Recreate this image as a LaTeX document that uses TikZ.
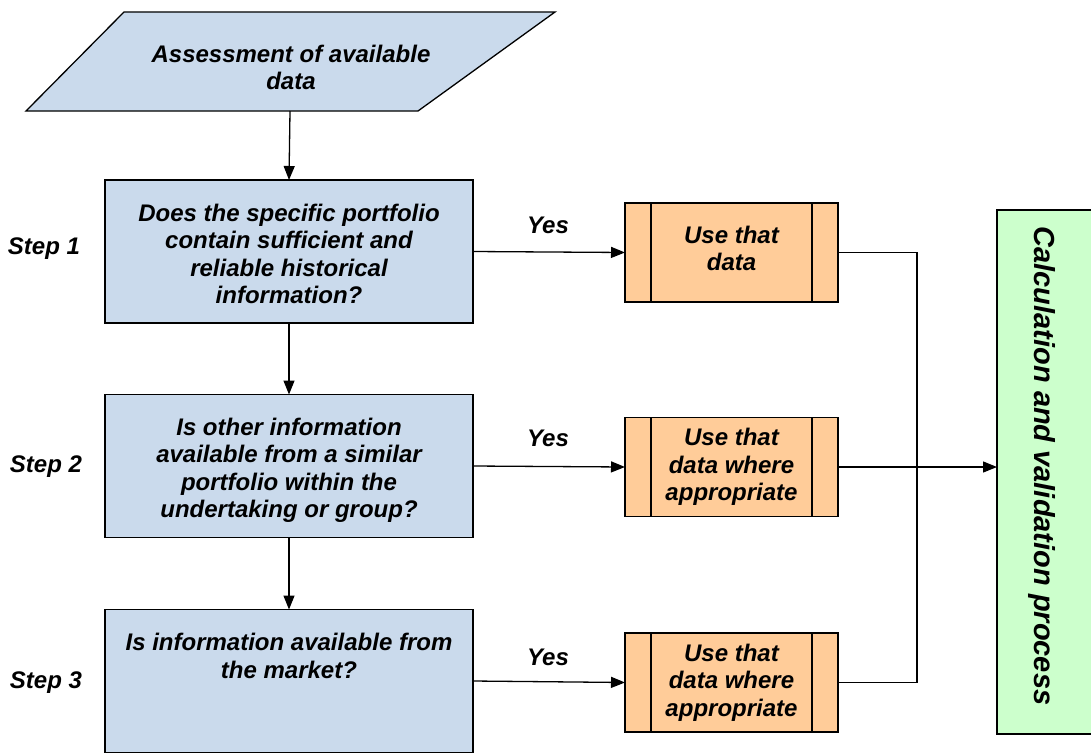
\documentclass[tikz,border=0pt]{standalone}
\usepackage{fontspec}
\setmainfont{Liberation Sans}
\usetikzlibrary{arrows.meta}
\definecolor{boxblue}{RGB}{202,218,236}
\definecolor{boxorange}{RGB}{255,204,153}
\definecolor{boxgreen}{RGB}{204,255,204}
\begin{document}
\begin{tikzpicture}[x=1pt,y=-1pt,
  every node/.style={font=\bfseries\itshape\fontsize{24}{27.5}\selectfont},
  qbox/.style={draw, line width=1.3pt, fill=boxblue, minimum width=368pt, minimum height=143pt, inner sep=0pt, outer sep=0pt},
  pbox/.style={draw, line width=1.3pt, fill=boxorange, minimum width=213pt, minimum height=99pt, inner sep=0pt, outer sep=0pt, align=center},
  gbox/.style={draw, line width=1.3pt, fill=boxgreen, minimum width=98pt, minimum height=524pt, inner sep=0pt, outer sep=0pt},
  txt/.style={align=center, inner sep=0pt},
  link/.style={line width=1.3pt},
  arr/.style={line width=1.3pt, -{Triangle[length=14pt,width=11pt]}}]
\useasboundingbox (0,0) rectangle (1091,752);
\fill[white] (0,0) rectangle (1091,752);
% start shape
\draw[fill=boxblue, line width=1.3pt] (124,12) -- (555,12) -- (418,111) -- (26,111) -- cycle;
\node[txt] (assess) at (291,67.5) {Assessment of available\\data};
\coordinate (pbot) at (290,111);
% question boxes
\node[qbox] (b1) at (289,251.5) {};
\node[qbox] (b2) at (289,466) {};
\node[qbox] (b3) at (289,681) {};
\node[txt, anchor=north] (t1) at (289,203.5) {Does the specific portfolio\\contain sufficient and\\reliable historical\\information?};
\node[txt, anchor=north] (t2) at (289,417.5) {Is other information\\available from a similar\\portfolio within the\\undertaking or group?};
\node[txt, anchor=north] (t3) at (289,633) {Is information available from\\the market?};
% step labels
\node[txt] (s1) at (44,249) {Step 1};
\node[txt] (s2) at (46,467) {Step 2};
\node[txt] (s3) at (46,683) {Step 3};
% process boxes
\node[pbox] (o1) at (731.5,252.5) {};
\node[txt] (o1t) at (731.5,248.5) {Use that\\data};
\node[pbox] (o2) at (731.5,467) {Use that\\data where\\appropriate};
\node[pbox] (o3) at (731.5,682.5) {Use that\\data where\\appropriate};
\foreach \o in {o1,o2,o3}{
  \draw[link] ([xshift=26pt]\o.north west) -- ([xshift=26pt]\o.south west);
  \draw[link] ([xshift=-26pt]\o.north east) -- ([xshift=-26pt]\o.south east);
}
% yes labels
\node[txt] (y1) at (548,225) {Yes};
\node[txt] (y2) at (548,438) {Yes};
\node[txt] (y3) at (548,657) {Yes};
% final box
\node[gbox] (calc) at (1046,472) {};
\node[txt, rotate=-90, font=\bfseries\itshape\fontsize{29}{32}\selectfont] (calct) at (1042,466) {Calculation and validation process};
% connectors
\draw[arr] (pbot) -- (b1.north);
\draw[arr] (b1.south) -- (b2.north);
\draw[arr] (b2.south) -- (b3.north);
\draw[arr] (b1.east) -- (o1.west);
\draw[arr] (b2.east) -- (o2.west);
\draw[arr] (b3.east) -- (o3.west);
\coordinate (j) at (917,253);
\draw[link] (o1.east) -- (o1.east -| j) -- (o3.east -| j) -- (o3.east);
\draw[arr] (o2.east) -- (calc.west |- o2.east);
\end{tikzpicture}
\end{document}
